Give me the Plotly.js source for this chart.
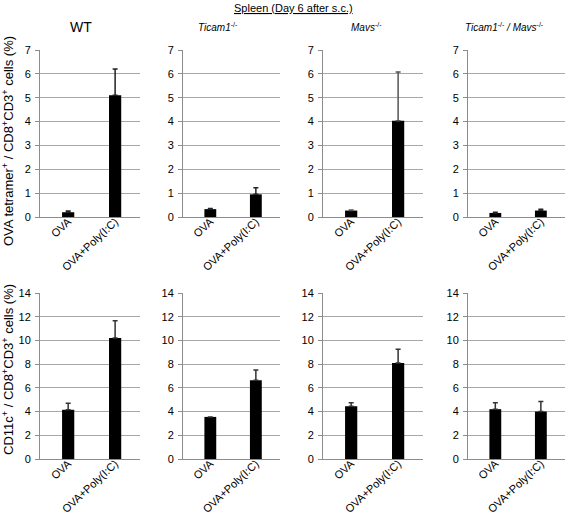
<!DOCTYPE html>
<html>
<head>
<meta charset="utf-8">
<script src="https://cdn.plot.ly/plotly-3.0.1.min.js"></script>
<style>html,body{margin:0;padding:0;background:#fff;}#chart{width:565px;height:517px;}</style>
</head>
<body>
<div id="chart"></div>
<script>
// ---- data ----
const categories = ['OVA', 'OVA+Poly(I:C)'];
const groups = ['WT', 'Ticam1-/-', 'Mavs-/-', 'Ticam1-/- / Mavs-/-'];

// OVA tetramer+ / CD8+CD3+ cells (%)
const tetWT = [0.2, 5.1];
const tetWTErr = [0.05, 1.1];
const tetTicam1 = [0.33, 0.95];
const tetTicam1Err = [0.03, 0.28];
const tetMavs = [0.27, 4.03];
const tetMavsErr = [0.02, 2.05];
const tetDKO = [0.17, 0.27];
const tetDKOErr = [0.03, 0.06];

// CD11c+ / CD8+CD3+ cells (%)
const cdWT = [4.15, 10.2];
const cdWTErr = [0.55, 1.45];
const cdTicam1 = [3.55, 6.65];
const cdTicam1Err = [0, 0.85];
const cdMavs = [4.45, 8.1];
const cdMavsErr = [0.3, 1.15];
const cdDKO = [4.2, 4.0];
const cdDKOErr = [0.55, 0.85];

const topTickVals = [0, 1, 2, 3, 4, 5, 6, 7];
const bottomTickVals = [0, 2, 4, 6, 8, 10, 12, 14];

// ---- layout helpers ----
const W = 565, H = 517;
const xPix = [[40, 140], [183, 280], [323, 423], [468, 565]];
const topPix = [50, 217];
const botPix = [293, 459];
const fx = p => p / W;
const fy = p => 1 - p / H;
const FONT = 'Liberation Sans, Arial, sans-serif';

const topSeries = [[tetWT, tetWTErr], [tetTicam1, tetTicam1Err], [tetMavs, tetMavsErr], [tetDKO, tetDKOErr]];
const botSeries = [[cdWT, cdWTErr], [cdTicam1, cdTicam1Err], [cdMavs, cdMavsErr], [cdDKO, cdDKOErr]];

const traces = [];
const layout = {
  width: W, height: H,
  margin: {l: 0, r: 0, t: 0, b: 0},
  paper_bgcolor: '#fff', plot_bgcolor: 'rgba(0,0,0,0)',
  showlegend: false,
  font: {family: FONT, size: 11, color: '#000'},
  bargap: 0.76,
  annotations: []
};

function addPanel(idx, series, yPix, maxY, tickVals, errColor) {
  const n = idx + 1;
  const xa = 'x' + (n === 1 ? '' : n);
  const ya = 'y' + (n === 1 ? '' : n);
  traces.push({
    type: 'bar', x: categories, y: series[0],
    xaxis: xa, yaxis: ya,
    width: 0.26,
    marker: {color: '#000', line: {width: 0}},
    error_y: {type: 'data', array: series[1], arrayminus: series[1].map(() => 0), symmetric: false,
              color: errColor, thickness: 1.5, width: 2.5},
    hoverinfo: 'skip'
  });
  const col = idx % 4;
  layout['xaxis' + (n === 1 ? '' : n)] = {
    domain: [fx(xPix[col][0]), fx(xPix[col][1])],
    anchor: ya, type: 'category', range: [-0.6, 1.53],
    showgrid: false, zeroline: false,
    showline: true, linecolor: '#8c8c8c', linewidth: 1,
    ticks: '', tickangle: -43, ticklabelstandoff: -7,
    tickfont: {family: FONT, size: 11, color: '#000'}
  };
  layout['yaxis' + (n === 1 ? '' : n)] = {
    domain: [fy(yPix[1]), fy(yPix[0])],
    anchor: xa, range: [0, maxY],
    tickvals: tickVals,
    showgrid: true, gridcolor: '#a8a8a8', gridwidth: 1,
    zeroline: false,
    showline: true, linecolor: '#8c8c8c', linewidth: 1,
    ticks: 'outside', ticklen: 4, tickcolor: '#8c8c8c', ticklabelstandoff: 2,
    tickfont: {family: FONT, size: 11, color: '#000'}
  };
}

for (let i = 0; i < 4; i++) addPanel(i, topSeries[i], topPix, 7, topTickVals, i === 2 ? '#555' : '#222');
for (let i = 0; i < 4; i++) addPanel(i + 4, botSeries[i], botPix, 14, bottomTickVals, '#333');

// titles
layout.annotations.push({
  text: '<u>Spleen (Day 6 after s.c.)</u>', xref: 'paper', yref: 'paper',
  x: fx(293), y: fy(8), xanchor: 'center', yanchor: 'middle', showarrow: false,
  font: {family: FONT, size: 11, color: '#000'}
});
const colTitles = [
  {t: 'WT', x: 81, size: 14},
  {t: '<i>Ticam1</i><sup>-/-</sup>', x: 218, size: 10},
  {t: '<i>Mavs</i><sup>-/-</sup>', x: 366, size: 10},
  {t: '<i>Ticam1</i><sup>-/-</sup><i> / Mavs</i><sup>-/-</sup>', x: 505, size: 10}
];
colTitles.forEach(c => layout.annotations.push({
  text: c.t, xref: 'paper', yref: 'paper', x: fx(c.x), y: fy(27),
  xanchor: 'center', yanchor: 'middle', showarrow: false,
  font: {family: FONT, size: c.size, color: '#000'}
}));
layout.annotations.push({
  text: 'OVA tetramer<sup>+</sup> / CD8<sup>+</sup>CD3<sup>+</sup> cells (%)',
  xref: 'paper', yref: 'paper', x: fx(8), y: fy(141), textangle: -90,
  xanchor: 'center', yanchor: 'middle', showarrow: false,
  font: {family: FONT, size: 13, color: '#000'}
});
layout.annotations.push({
  text: 'CD11c<sup>+</sup> / CD8<sup>+</sup>CD3<sup>+</sup> cells (%)',
  xref: 'paper', yref: 'paper', x: fx(8), y: fy(370), textangle: -90,
  xanchor: 'center', yanchor: 'middle', showarrow: false,
  font: {family: FONT, size: 13, color: '#000'}
});

Plotly.newPlot('chart', traces, layout, {staticPlot: true, displayModeBar: false});
</script>
</body>
</html>
